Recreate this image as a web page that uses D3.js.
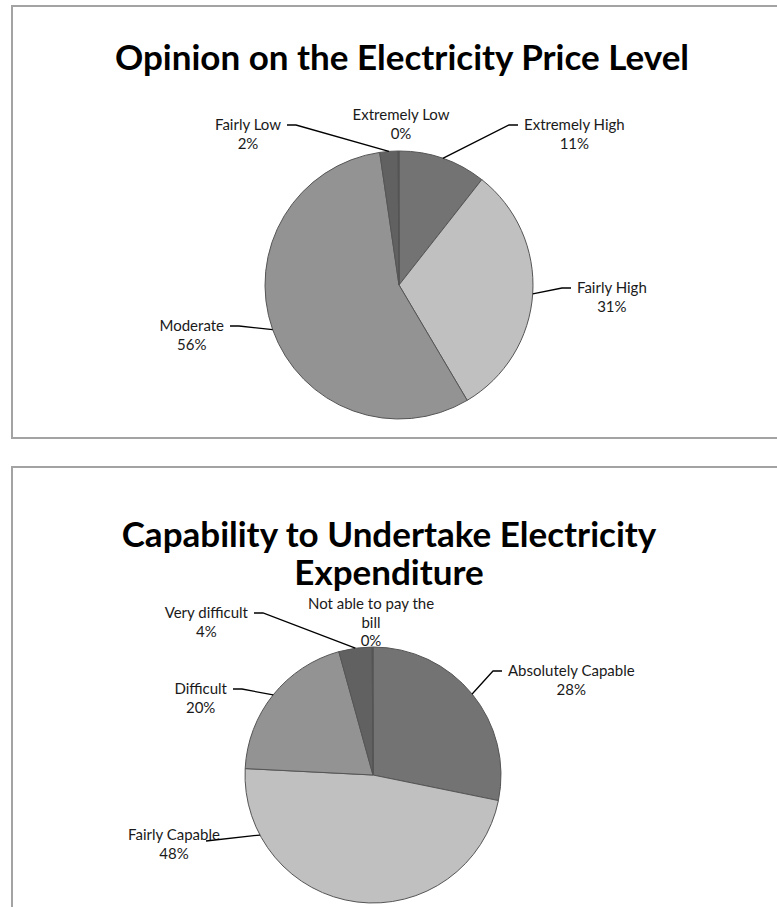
<!DOCTYPE html>
<html>
<head>
<meta charset="utf-8">
<script src="https://cdn.jsdelivr.net/npm/d3@7"></script>
<style>
  html, body { margin: 0; padding: 0; background: #fff; }
  svg { display: block; }
  .title { font-family: Lato, "Open Sans", sans-serif; font-weight: bold; fill: #000; }
  .lbl { font-family: Lato, "Open Sans", sans-serif; font-size: 15px; fill: #1a1a1a; }
</style>
</head>
<body>
<svg id="chart" width="777" height="907"></svg>
<script>
// --- data ---
var priceTitle = ["Opinion on the Electricity Price Level"];
var priceCategories = ["Extremely High", "Fairly High", "Moderate", "Fairly Low", "Extremely Low"];
var priceValues = [10.6, 30.9, 56.2, 2.2, 0.1];

var capTitle = ["Capability to Undertake Electricity", "Expenditure"];
var capCategories = ["Absolutely Capable", "Fairly Capable", "Difficult", "Very difficult", "Not able to pay the bill"];
var capValues = [28.2, 47.6, 19.9, 4.2, 0.1];

// slice fills, in series order
var sliceColors = ["#737373", "#c0c0c0", "#939393", "#616161", "#4d4d4d"];

// label placement (relative to pie centre): ex/ey = leader elbow, tx/ty = text centre
var priceLayout = [
    {ex: 110, ey: -160, side: 1},
    {ex: 163, ey: 3, side: 1},
    {ex: -160, ey: 41, side: -1},
    {ex: -103, ey: -160, side: -1},
    {tx: 2, ty: -170, noLine: true}
];
var capLayout = [
    {ex: 120, ey: -104, side: 1},
    {ex: -167, ey: 66, tx: -199, ty: 60, at: 0.82},
    {ex: -131, ey: -86, side: -1},
    {ex: -110, ey: -162, side: -1},
    {tx: -2, ty: -171, noLine: true, wrap: 130}
];

var svg = d3.select("#chart");
var lineH = 18.5;

// chart frames
svg.append("rect").attr("x", 12).attr("y", 6).attr("width", 800).attr("height", 432)
    .attr("fill", "none").attr("stroke", "#a3a3a3").attr("stroke-width", 2);
svg.append("rect").attr("x", 12).attr("y", 467).attr("width", 800).attr("height", 480)
    .attr("fill", "none").attr("stroke", "#a3a3a3").attr("stroke-width", 2);

function wrapWords(textSel, str, maxW) {
    var words = str.split(" "), lines = [], cur = "";
    words.forEach(function (w) {
        var test = cur ? cur + " " + w : w;
        textSel.text(test);
        if (textSel.node().getComputedTextLength() > maxW && cur) {
            lines.push(cur);
            cur = w;
        } else {
            cur = test;
        }
    });
    lines.push(cur);
    textSel.text("");
    return lines;
}

function drawPie(opts) {
    var title = svg.append("text").attr("class", "title")
        .attr("text-anchor", "middle")
        .style("font-size", opts.titleSize + "px");
    opts.title.forEach(function (t, i) {
        title.append("tspan").attr("x", opts.titleX).attr("y", opts.titleY + i * opts.titleLH).text(t);
    });

    var g = svg.append("g").attr("transform", "translate(" + opts.cx + "," + opts.cy + ")");
    var pie = d3.pie().sort(null).value(function (d) { return d; });
    var arcs = pie(opts.values);
    var arc = d3.arc().innerRadius(0).outerRadius(opts.r);

    g.selectAll("path.slice")
        .data(arcs)
        .enter()
        .append("path")
        .attr("class", "slice")
        .attr("d", arc)
        .attr("fill", function (d, i) { return sliceColors[i]; })
        .attr("stroke", "#555")
        .attr("stroke-width", 1);

    arcs.forEach(function (d, i) {
        var L = opts.layout[i];
        var name = opts.categories[i];
        var pct = Math.round(d.value) + "%";

        var t = g.append("text").attr("class", "lbl").attr("text-anchor", "middle");
        var lines = L.wrap ? wrapWords(t, name, L.wrap) : [name];
        lines.push(pct);

        // widest line decides where a side label's block sits
        var maxW = 0;
        lines.forEach(function (s) {
            t.text(s);
            maxW = Math.max(maxW, t.node().getComputedTextLength());
        });
        t.text("");

        var tx, ty;
        if (L.noLine || L.tx !== undefined) {
            tx = L.tx; ty = L.ty;
        } else {
            var hEnd = L.ex + L.side * 9;
            tx = hEnd + L.side * (6 + maxW / 2);
            ty = L.ey;
        }

        if (!L.noLine) {
            var a = d.startAngle + (d.endAngle - d.startAngle) * (L.at !== undefined ? L.at : 0.5);
            var sx = opts.r * Math.sin(a), sy = -opts.r * Math.cos(a);
            var pts = [[sx, sy], [L.ex, L.ey]];
            if (L.side) pts.push([L.ex + L.side * 9, L.ey]);
            g.append("path")
                .attr("d", d3.line()(pts))
                .attr("fill", "none")
                .attr("stroke", "#000")
                .attr("stroke-width", 1.3);
        }

        lines.forEach(function (s, k) {
            t.append("tspan").attr("x", tx).attr("y", ty + 5 + k * lineH).text(s);
        });
    });
}

drawPie({
    title: priceTitle, titleX: 402, titleY: 70, titleSize: 35, titleLH: 40,
    cx: 399, cy: 285, r: 134,
    categories: priceCategories, values: priceValues, layout: priceLayout
});

drawPie({
    title: capTitle, titleX: 389, titleY: 547, titleSize: 35, titleLH: 38,
    cx: 373, cy: 775, r: 128,
    categories: capCategories, values: capValues, layout: capLayout
});
</script>
</body>
</html>
